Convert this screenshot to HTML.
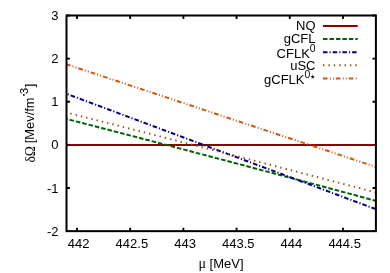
<!DOCTYPE html>
<html><head><meta charset="utf-8"><title>plot</title>
<style>
html,body{margin:0;padding:0;background:#fff;}
body{width:390px;height:273px;overflow:hidden;}
svg{display:block;}
svg{will-change:transform;}
text{font-family:"Liberation Sans",sans-serif;font-size:13.0px;fill:#000;}
.sym{font-family:"Liberation Serif",serif;}
</style></head><body>
<svg width="390" height="273" viewBox="0 0 390 273">
<rect width="390" height="273" fill="#fff"/>

<g fill="none">
<path d="M323.00 25.90 L357.70 25.90" stroke="#8b0000" stroke-width="2.0"/>
<path d="M323.00 38.90 L357.70 38.90" stroke="#006400" stroke-width="2.0" stroke-dasharray="4.5 1.96"/>
<path d="M323.00 52.20 L357.70 52.20" stroke="#00008b" stroke-width="2.0" stroke-dasharray="4.5 2.1 1.1 2.0"/>
<path d="M323.00 65.30 L357.70 65.30" stroke="#9a520f" stroke-width="2.0" stroke-dasharray="1.4 3.98"/>
<path d="M323.00 78.50 L357.70 78.50" stroke="#d2560e" stroke-width="2.0" stroke-dasharray="4.5 2.4 0.9 2.1 0.9 2.1"/>
</g>
<text x="315.50" y="29.50" text-anchor="end">NQ</text>
<text x="315.50" y="42.50" text-anchor="end">gCFL</text>
<text x="315.60" y="57.90" text-anchor="end">CFLK<tspan dy="-6" font-size="10.4">0</tspan></text>
<text x="315.50" y="69.60" text-anchor="end">uSC</text>
<text x="310.30" y="84.40" text-anchor="end">gCFLK<tspan dy="-6" font-size="10.4">0</tspan></text>
<polygon points="312.70,74.60 313.23,76.17 314.89,76.19 313.56,77.18 314.05,78.76 312.70,77.80 311.35,78.76 311.84,77.18 310.51,76.19 312.17,76.17" fill="#000"/>
<g stroke="#000" stroke-width="1.9" fill="none"><path d="M77.00 231.15 v-3.40 M77.00 15.50 v3.40"/><path d="M130.19 231.15 v-3.40 M130.19 15.50 v3.40"/><path d="M183.38 231.15 v-3.40 M183.38 15.50 v3.40"/><path d="M236.57 231.15 v-3.40 M236.57 15.50 v3.40"/><path d="M289.76 231.15 v-3.40 M289.76 15.50 v3.40"/><path d="M342.95 231.15 v-3.40 M342.95 15.50 v3.40"/><path d="M66.50 231.15 h3.40 M375.90 231.15 h-3.40"/><path d="M66.50 188.02 h3.40 M375.90 188.02 h-3.40"/><path d="M66.50 144.89 h3.40 M375.90 144.89 h-3.40"/><path d="M66.50 101.76 h3.40 M375.90 101.76 h-3.40"/><path d="M66.50 58.63 h3.40 M375.90 58.63 h-3.40"/><path d="M66.50 15.50 h3.40 M375.90 15.50 h-3.40"/></g>
<g fill="none" stroke-linecap="butt">
<path d="M66.50 144.90 Q221.20 144.90 375.90 144.90" stroke="#8b0000" stroke-width="2.0"/>
<path d="M66.50 118.95 Q221.20 158.90 375.90 200.85" stroke="#006400" stroke-width="2.0" stroke-dasharray="4.55 1.98" stroke-dashoffset="3.33"/>
<path d="M66.50 93.80 Q221.20 151.50 375.90 209.20" stroke="#00008b" stroke-width="2.0" stroke-dasharray="4.6 2.0 1.13 2.0" stroke-dashoffset="5.315"/>
<path d="M66.50 112.55 Q221.20 151.80 375.90 192.45" stroke="#9a520f" stroke-width="2.0" stroke-dasharray="1.4 4.02" stroke-dashoffset="1.47"/>
<path d="M66.50 64.30 Q221.20 115.60 375.90 166.90" stroke="#d2560e" stroke-width="2.0" stroke-dasharray="4.7 2.2 1.0 2.05 1.0 2.05" stroke-dashoffset="0.5"/>
</g>
<path d="M67.5 144.9 H70.2" stroke="#5c0000" stroke-width="2"/>
<rect x="66.50" y="15.50" width="309.40" height="215.65" fill="none" stroke="#000" stroke-width="2"/>
<text x="78.70" y="248.3" text-anchor="middle">442</text>
<text x="131.89" y="248.3" text-anchor="middle">442.5</text>
<text x="185.08" y="248.3" text-anchor="middle">443</text>
<text x="238.27" y="248.3" text-anchor="middle">443.5</text>
<text x="291.46" y="248.3" text-anchor="middle">444</text>
<text x="344.65" y="248.3" text-anchor="middle">444.5</text>
<text x="58.5" y="235.65" text-anchor="end">-2</text>
<text x="58.5" y="192.52" text-anchor="end">-1</text>
<text x="58.5" y="149.39" text-anchor="end">0</text>
<text x="58.5" y="106.26" text-anchor="end">1</text>
<text x="58.5" y="63.13" text-anchor="end">2</text>
<text x="58.5" y="20.00" text-anchor="end">3</text>
<text x="198.6" y="268.1" class="sym" style="font-size:14.0px">μ</text>
<text x="209.6" y="268.0">[MeV]</text>
<text transform="translate(35.0 162.6) rotate(-90)" class="sym" style="font-size:13.6px">δΩ</text>
<text transform="translate(34.1 143.2) rotate(-90)" style="font-size:12.85px">[Mev/fm</text>
<text transform="translate(28.2 94.2) rotate(-90)" style="font-size:11.6px">3</text>
<text transform="translate(34.1 87.2) rotate(-90)">]</text>
<rect x="23.1" y="94.0" width="1.5" height="1.9" fill="#111"/>
</svg></body></html>
